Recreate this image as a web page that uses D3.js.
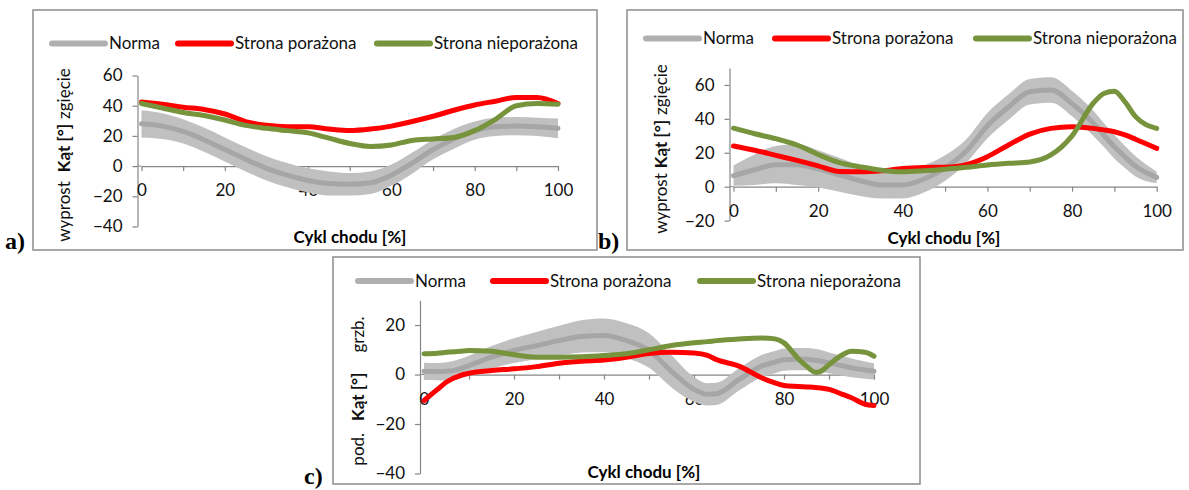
<!DOCTYPE html>
<html>
<head>
<meta charset="utf-8">
<script src="https://cdn.jsdelivr.net/npm/d3@7"></script>
<style>
  body { margin: 0; background: #fff; }
  text { font-family: Lato, "Open Sans", sans-serif; }
</style>
</head>
<body>
<svg id="chart" width="1189" height="490"></svg>
<script>

// legend names and shared x ticks
var seriesNames = ["Norma", "Strona porażona", "Strona nieporażona"];
var seriesColors = ["#a6a6a6", "#ff0000", "#77933c"];
var xTicks = [0, 10, 20, 30, 40, 50, 60, 70, 80, 90, 100];
var xLabels = [0, 20, 40, 60, 80, 100];

// a) - hip
var pctA = [0, 5, 10, 15, 20, 25, 30, 35, 40, 45, 50, 55, 60, 65, 70, 75, 80, 85, 90, 95, 100];
var normaA = [28, 26.5, 23, 17.5, 11, 4.5, -1.5, -6, -9.5, -11.5, -12, -11, -6, 2, 11, 18, 23.5, 26, 26.5, 26, 25];
var normaSdA = [9, 8.5, 8, 8, 8, 8, 8, 8, 8, 8, 7.5, 7.5, 7, 7, 6.5, 6.5, 6, 6, 6, 6, 6.5];
var porazonaA = [42.5, 41, 39, 37.5, 34.5, 29.5, 27, 26, 26, 24.5, 23.5, 24.5, 26.5, 29.5, 33, 37, 40.5, 43, 45.5, 45.5, 41.5];
var nieporazonaA = [41.5, 38.5, 35.5, 33.5, 30.5, 27, 25, 23.5, 22, 18.5, 15, 13, 14, 17, 18, 19, 23.5, 31, 40, 41.5, 41];
var yTicksA = [-40, -20, 0, 20, 40, 60];

// b) - knee
var pctB = [0, 5, 10, 15, 20, 25, 30, 35, 40, 45, 50, 55, 60, 65, 70, 75, 80, 85, 87.5, 90, 92.5, 95, 100];
var normaB = [6.5, 10, 13, 13, 10.5, 7, 3.5, 1, 1, 4.5, 11, 21, 36, 47, 56, 57, 49, 37.5, 30.5, 23.5, 17.5, 12, 5.5];
var normaSdB = [6, 9, 11, 12, 11, 10, 9, 8, 8, 8, 7.5, 7, 7.5, 7.5, 7.5, 7.5, 7.5, 7.5, 7, 7, 6.5, 6, 3.5];
var porazonaB = [24, 21.5, 18.5, 15.5, 12.3, 9, 8.8, 9.4, 10.7, 11.3, 11.5, 13, 17.7, 24.6, 31, 34.4, 35.4, 34.4, 33.5, 32.4, 30.5, 28, 22.6];
var nieporazonaB = [34.5, 31.2, 28.3, 24.6, 19, 14.2, 11.7, 9.7, 8.8, 9.4, 10.3, 11.4, 12.8, 13.8, 14.6, 18.7, 30, 49.2, 55, 56.3, 50, 41.3, 34.4];
var yTicksB = [-20, 0, 20, 40, 60];

// c) - ankle
var pctC = [0, 3, 5, 8, 10, 15, 20, 25, 30, 35, 40, 45, 50, 55, 60, 63, 65, 70, 75, 78, 80, 83, 85, 87, 88, 90, 93, 95, 98, 100];
var normaC = [1.3, 1.2, 1.3, 2.3, 3.6, 7, 9.7, 11.7, 13.7, 15.4, 15.8, 13.7, 9.7, 1.3, -6, -8, -7.8, -2, 3.4, 5, 6, 6.2, 6.2, 5.8, 5.5, 4.7, 3.5, 2.7, 1.8, 1.3];
var normaSdC = [3.5, 3.5, 3.7, 4, 4, 4.5, 5, 5.5, 6, 6.5, 6.8, 7, 7, 6.5, 5, 4.5, 4.5, 4.5, 4.5, 4.5, 4.5, 4.5, 4.5, 4.5, 4.5, 4.2, 4, 3.8, 3.5, 3.3];
var porazonaC = [-10.5, -6, -3, -0.4, 0.5, 1.6, 2.3, 3.2, 4.6, 5.4, 5.9, 7, 8.5, 9, 8.7, 7.7, 6, 3.4, -1.3, -3.4, -4.4, -4.8, -5, -5.2, -5.4, -6, -8, -9.4, -12, -12.5];
var nieporazonaC = [8.4, 8.6, 9, 9.4, 9.7, 9.4, 8, 7, 7, 7.2, 7.7, 8.4, 10, 11.7, 12.8, 13.3, 13.7, 14.4, 14.8, 14.4, 12.8, 6.7, 3.4, 0.9, 1.2, 4, 8, 9.4, 9, 7.4];
var yTicksC = [-40, -20, 0, 20];

var svg = d3.select("#chart");

function drawPanel(p) {
  var g = svg.append("g");

  // frame round the panel
  g.append("rect")
    .attr("x", p.frame[0]).attr("y", p.frame[1])
    .attr("width", p.frame[2]).attr("height", p.frame[3])
    .attr("fill", "none").attr("stroke", "#8c8c8c").attr("stroke-width", 1.5);

  var x = d3.scaleLinear().domain([0, 100]).range(p.xRange);
  var y = d3.scaleLinear().domain(p.yDomain).range(p.yRange);
  var axisX = x(0) - 4;

  // y axis
  var yAxis = g.append("g")
    .attr("transform", "translate(" + axisX + ",0)")
    .call(d3.axisLeft(y).tickValues(p.yTicks).tickSize(5).tickSizeOuter(0).tickPadding(10));

  // x axis on the zero line
  var xAxis = g.append("g")
    .attr("transform", "translate(0," + y(0) + ")")
    .call(d3.axisBottom(x).tickValues(xTicks).tickSize(5).tickSizeOuter(0).tickPadding(13)
      .tickFormat(function(d) { return xLabels.indexOf(d) >= 0 ? d : ""; }));
  g.append("line")
    .attr("x1", axisX).attr("x2", x(0))
    .attr("y1", y(0)).attr("y2", y(0))
    .attr("stroke", "#868686");

  [yAxis, xAxis].forEach(function(a) {
    a.attr("font-family", null).attr("font-size", null);
    a.selectAll("path, line").attr("stroke", "#868686").attr("stroke-width", 1.2);
    a.selectAll("text").attr("fill", "#111").style("font-size", "17px");
  });

  // norma: mean +/- sd band and mean line
  var pts = p.pct.map(function(v, i) {
    return {x: v, m: p.norma[i], sd: p.sd[i], r: p.porazona[i], gr: p.nieporazona[i]};
  });

  var band = d3.area().curve(d3.curveMonotoneX)
    .x(function(d) { return x(d.x); })
    .y0(function(d) { return y(d.m - d.sd); })
    .y1(function(d) { return y(d.m + d.sd); });
  g.append("path").datum(pts).attr("d", band).attr("fill", "#c0c0c0");

  var keys = ["m", "r", "gr"];
  keys.forEach(function(k, i) {
    var line = d3.line().curve(d3.curveMonotoneX)
      .x(function(d) { return x(d.x); })
      .y(function(d) { return y(d[k]); });
    g.append("path").datum(pts).attr("d", line)
      .attr("fill", "none").attr("stroke", seriesColors[i])
      .attr("stroke-width", 5)
      .attr("stroke-linecap", "round").attr("stroke-linejoin", "round");
  });

  // legend
  seriesNames.forEach(function(name, i) {
    var lx = p.legendX[i];
    g.append("line")
      .attr("x1", lx).attr("x2", lx + 53)
      .attr("y1", p.legendY).attr("y2", p.legendY)
      .attr("stroke", i == 0 ? "#b0b0b0" : seriesColors[i])
      .attr("stroke-width", 6).attr("stroke-linecap", "round");
    g.append("text")
      .attr("x", lx + 57).attr("y", p.legendY).attr("dy", "0.35em")
      .style("font-size", "17px").attr("fill", "#111")
      .text(name);
  });

  // axis titles
  g.append("text")
    .attr("x", p.xTitle[0]).attr("y", p.xTitle[1])
    .attr("text-anchor", "middle")
    .style("font-size", "17px").style("font-weight", "bold")
    .text("Cykl chodu [%]");

  var yt = g.append("text")
    .attr("transform", "translate(" + p.yTitle[0] + "," + p.yTitle[1] + ") rotate(-90)")
    .attr("text-anchor", "middle")
    .style("font-size", "17px").attr("fill", "#111");
  p.yTitleParts.forEach(function(part) {
    yt.append("tspan")
      .attr("dx", part.dx)
      .style("font-weight", part.bold ? "bold" : "normal")
      .text(part.t);
  });

  // panel letter
  g.append("text")
    .attr("x", p.letter[0]).attr("y", p.letter[1])
    .style("font-family", "'Liberation Serif', 'Times New Roman', serif")
    .style("font-size", "24px").style("font-weight", "bold")
    .text(p.letterText);
}

drawPanel({
  frame: [33, 10, 564, 240],
  xRange: [141.5, 558], yDomain: [-40, 60], yRange: [226.5, 75.5],
  yTicks: yTicksA,
  pct: pctA, norma: normaA, sd: normaSdA, porazona: porazonaA, nieporazona: nieporazonaA,
  legendX: [52, 178, 377], legendY: 43.5,
  xTitle: [350, 243],
  yTitle: [70, 155],
  yTitleParts: [{t: "wyprost", bold: false, dx: 0}, {t: "Kąt [°]", bold: true, dx: 9}, {t: "zgięcie", bold: false, dx: 5}],
  letter: [5, 249], letterText: "a)"
});

drawPanel({
  frame: [627, 10, 556, 240],
  xRange: [733.5, 1156.7], yDomain: [-20, 70], yRange: [220.6, 68],
  yTicks: yTicksB,
  pct: pctB, norma: normaB, sd: normaSdB, porazona: porazonaB, nieporazona: nieporazonaB,
  legendX: [646, 775, 976], legendY: 38.5,
  xTitle: [944, 244],
  yTitle: [667, 149],
  yTitleParts: [{t: "wyprost", bold: false, dx: 0}, {t: "Kąt [°]", bold: true, dx: 5}, {t: "zgięcie", bold: false, dx: 5}],
  letter: [598, 249], letterText: "b)"
});

drawPanel({
  frame: [333, 257, 587, 227],
  xRange: [424, 874], yDomain: [-40, 30], yRange: [473.5, 300.3],
  yTicks: yTicksC,
  pct: pctC, norma: normaC, sd: normaSdC, porazona: porazonaC, nieporazona: nieporazonaC,
  legendX: [358, 493, 700], legendY: 281,
  xTitle: [644, 478],
  yTitle: [364, 391],
  yTitleParts: [{t: "pod.", bold: false, dx: 0}, {t: "Kąt [°]", bold: true, dx: 12}, {t: "grzb.", bold: false, dx: 20}],
  letter: [304, 484], letterText: "c)"
});

</script>
</body>
</html>
